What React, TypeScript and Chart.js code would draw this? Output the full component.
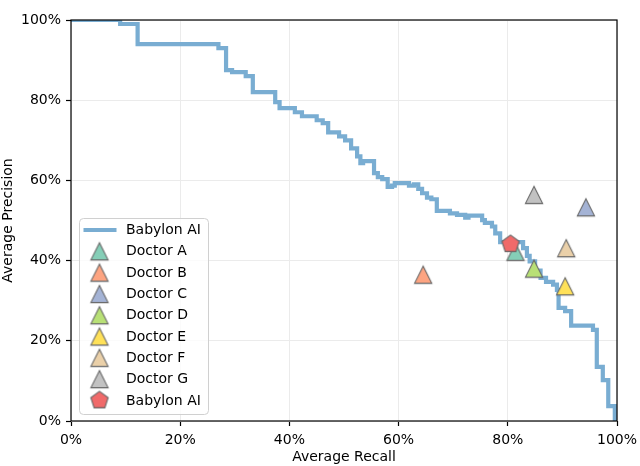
import React, { useEffect, useRef } from 'react';
import { Chart, registerables } from 'chart.js';

Chart.register(...registerables);

// ---- data (percent) ----
const curveRecall = [
  0, 9.0, 12.2, 27.0, 28.4, 29.5, 32.0, 33.3, 37.4, 38.2, 41.0, 42.3, 45.0, 46.1, 47.1,
  49.1, 50.2, 51.3, 52.4, 53.0, 53.5, 55.5, 56.2, 57.0, 58.0, 58.8, 59.3, 61.9, 62.8,
  63.6, 64.3, 65.2, 66.0, 67.0, 69.4, 70.7, 72.2, 72.8, 75.3, 75.8, 77.1, 77.7, 78.6,
  82.8, 83.5, 84.0, 85.0, 86.0, 87.0, 88.3, 89.0, 89.3, 90.5, 91.6, 95.6, 96.3, 97.4,
  98.4, 99.6,
];
const curvePrecision = [
  100, 99, 94, 93, 87.5, 87, 86, 82, 79.5, 78, 77, 76, 75, 74.3, 72,
  71, 70, 68, 66, 64.3, 64.8, 61.8, 60.8, 60.3, 58.4, 58.7, 59.3, 58.7, 59.0,
  57.9, 56.8, 55.7, 55.3, 52.4, 51.8, 51.4, 50.7, 51.2, 50.1, 49.4, 48.5, 46.8, 44.6,
  43.1, 41.2, 39.8, 37.5, 35.7, 34.7, 34.0, 32.7, 28.2, 27.4, 23.8, 22.7, 13.5, 10.2,
  3.7, 0,
];

const doctorNames = ['Doctor A', 'Doctor B', 'Doctor C', 'Doctor D', 'Doctor E', 'Doctor F', 'Doctor G'];
const doctorRecall = [81.4, 64.5, 94.3, 84.8, 90.5, 90.7, 84.8];
const doctorPrecision = [42.2, 36.5, 53.3, 38.0, 33.6, 43.1, 56.4];
const doctorColors = ['#85ceb7', '#fda481', '#a4b3d5', '#b8e076', '#ffe159', '#ead0a9', '#c2c2c2'];

const aiName = 'Babylon AI';
const aiRecall = [80.5];
const aiPrecision = [44.1];
const aiColor = '#f06a6a';
const curveColor = '#79add2';

const tickValues = [0, 20, 40, 60, 80, 100];
const xTitle = 'Average Recall';
const yTitle = 'Average Precision';

const FONT = 'DejaVu Sans';

function triangleImage(fill: string): HTMLCanvasElement {
  const s = 22;
  const c = document.createElement('canvas');
  c.width = s;
  c.height = s;
  const ctx = c.getContext('2d')!;
  const cx = s / 2, cy = s / 2, half = 8.6;
  ctx.beginPath();
  ctx.moveTo(cx, cy - half);
  ctx.lineTo(cx - half, cy + half);
  ctx.lineTo(cx + half, cy + half);
  ctx.closePath();
  ctx.fillStyle = fill;
  ctx.fill();
  ctx.lineWidth = 1.1;
  ctx.strokeStyle = '#666666';
  ctx.stroke();
  return c;
}

function pentagonImage(fill: string): HTMLCanvasElement {
  const s = 22;
  const c = document.createElement('canvas');
  c.width = s;
  c.height = s;
  const ctx = c.getContext('2d')!;
  const cx = s / 2, cy = s / 2, r = 9.1;
  ctx.beginPath();
  for (let k = 0; k < 5; k++) {
    const a = -Math.PI / 2 + (k * 2 * Math.PI) / 5;
    const px = cx + r * Math.cos(a);
    const py = cy + r * Math.sin(a);
    if (k === 0) ctx.moveTo(px, py);
    else ctx.lineTo(px, py);
  }
  ctx.closePath();
  ctx.fillStyle = fill;
  ctx.fill();
  ctx.lineWidth = 1.1;
  ctx.strokeStyle = '#666666';
  ctx.stroke();
  return c;
}

const spinesPlugin = {
  id: 'spines',
  afterDatasetsDraw(chart: any) {
    const { ctx, chartArea } = chart;
    ctx.save();
    ctx.strokeStyle = '#000';
    ctx.lineWidth = 1.2;
    ctx.strokeRect(chartArea.left, chartArea.top, chartArea.right - chartArea.left, chartArea.bottom - chartArea.top);
    ctx.restore();
  },
};

const legendPlugin = {
  id: 'customLegend',
  afterDraw(chart: any) {
    const { ctx, chartArea } = chart;
    const bx = chartArea.left + 8.5;
    const by = chartArea.top + 198.5;
    const bw = 129;
    const bh = 196;
    ctx.save();
    ctx.beginPath();
    const r = 4;
    ctx.moveTo(bx + r, by);
    ctx.lineTo(bx + bw - r, by);
    ctx.quadraticCurveTo(bx + bw, by, bx + bw, by + r);
    ctx.lineTo(bx + bw, by + bh - r);
    ctx.quadraticCurveTo(bx + bw, by + bh, bx + bw - r, by + bh);
    ctx.lineTo(bx + r, by + bh);
    ctx.quadraticCurveTo(bx, by + bh, bx, by + bh - r);
    ctx.lineTo(bx, by + r);
    ctx.quadraticCurveTo(bx, by, bx + r, by);
    ctx.closePath();
    ctx.fillStyle = 'rgba(255,255,255,0.8)';
    ctx.fill();
    ctx.strokeStyle = '#d0d0d0';
    ctx.lineWidth = 1;
    ctx.stroke();

    const rowStart = by + 11.5;
    const rowGap = 21.3;
    const markerX = bx + 20;
    const textX = bx + 46.5;
    ctx.font = `14px "${FONT}"`;
    ctx.textBaseline = 'middle';
    ctx.textAlign = 'left';
    chart.data.datasets.forEach((ds: any, i: number) => {
      const y = rowStart + i * rowGap;
      if (ds.showLine) {
        ctx.beginPath();
        ctx.moveTo(bx + 4, y);
        ctx.lineTo(bx + 37, y);
        ctx.strokeStyle = ds.borderColor;
        ctx.lineWidth = 4.2;
        ctx.stroke();
      } else {
        const img = ds.pointStyle as HTMLCanvasElement;
        ctx.drawImage(img, markerX - img.width / 2, y - img.height / 2);
      }
      ctx.fillStyle = '#000';
      ctx.fillText(ds.label, textX, y + 0.5);
    });
    ctx.restore();
  },
};

export default function App() {
  const ref = useRef<HTMLCanvasElement>(null);

  useEffect(() => {
    if (!ref.current) return;
    Chart.defaults.font.family = FONT;
    Chart.defaults.font.size = 14;
    Chart.defaults.color = '#000';

    const datasets: any[] = [];
    datasets.push({
      label: aiName,
      data: curveRecall.map((x, i) => ({ x, y: curvePrecision[i] })),
      showLine: true,
      stepped: 'before',
      borderColor: curveColor,
      borderWidth: 4.2,
      borderCapStyle: 'square',
      borderJoinStyle: 'miter',
      pointRadius: 0,
      fill: false,
      order: 20,
    });
    doctorNames.forEach((name, i) => {
      datasets.push({
        label: name,
        data: [{ x: doctorRecall[i], y: doctorPrecision[i] }],
        showLine: false,
        pointStyle: triangleImage(doctorColors[i]),
        pointRadius: 9,
        order: 10 - i,
        clip: false,
      });
    });
    datasets.push({
      label: aiName,
      data: aiRecall.map((x, i) => ({ x, y: aiPrecision[i] })),
      showLine: false,
      pointStyle: pentagonImage(aiColor),
      pointRadius: 9,
      order: 0,
      clip: false,
    });

    const axisCommon = (title: string, padding: number) => ({
      type: 'linear' as const,
      min: 0,
      max: 100,
      afterBuildTicks: (scale: any) => {
        scale.ticks = tickValues.map((v) => ({ value: v }));
      },
      ticks: {
        padding,
        callback: (v: any) => `${v}%`,
        font: { family: FONT, size: 14 },
        color: '#000',
      },
      grid: {
        color: '#ebebeb',
        lineWidth: 1,
        tickColor: '#000',
        tickLength: 5,
        tickWidth: 1.2,
        drawTicks: true,
      },
      border: { display: false },
      title: {
        display: true,
        text: title,
        font: { family: FONT, size: 14 },
        color: '#000',
        padding: { top: 0, bottom: 0 },
      },
    });

    const chart = new Chart(ref.current, {
      type: 'scatter',
      data: { datasets },
      options: {
        responsive: false,
        animation: false,
        events: [],
        layout: { padding: { left: 0, top: 20, right: 23, bottom: 0 } },
        plugins: {
          legend: { display: false },
          tooltip: { enabled: false },
        },
        scales: {
          x: {
            ...axisCommon(xTitle, 6),
            afterFit: (scale: any) => {
              scale.height = 45;
              scale.paddingLeft = 0;
              scale.paddingRight = 0;
            },
          },
          y: {
            ...axisCommon(yTitle, 5),
            afterFit: (scale: any) => {
              scale.width = 71;
              scale.paddingTop = 0;
              scale.paddingBottom = 0;
            },
          },
        },
      } as any,
      plugins: [spinesPlugin, legendPlugin],
    });
    return () => chart.destroy();
  }, []);

  return (
    <div style={{ position: 'fixed', left: 0, top: 0, width: 640, height: 466, background: '#fff' }}>
      <canvas ref={ref} width={640} height={466} style={{ width: 640, height: 466, display: 'block' }} />
    </div>
  );
}
